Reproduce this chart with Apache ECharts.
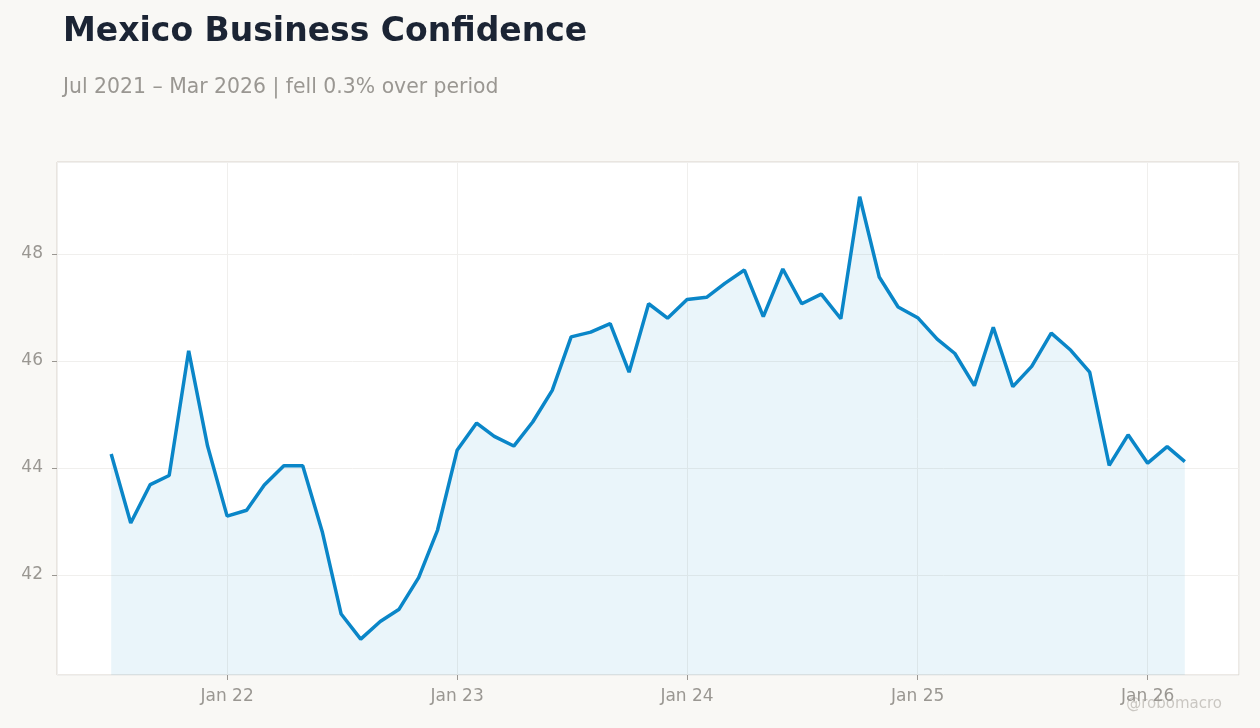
<!DOCTYPE html>
<html>
<head>
<meta charset="utf-8">
<script src="https://cdn.jsdelivr.net/npm/echarts@6/dist/echarts.min.js"></script>
<style>
  html, body { margin: 0; padding: 0; background: #f9f8f5; }
  #main { width: 1260px; height: 728px; }
</style>
</head>
<body>
<div id="main"></div>
<script>
var months = [
  '2021-07', '2021-08', '2021-09', '2021-10', '2021-11', '2021-12',
  '2022-01', '2022-02', '2022-03', '2022-04', '2022-05', '2022-06',
  '2022-07', '2022-08', '2022-09', '2022-10', '2022-11', '2022-12',
  '2023-01', '2023-02', '2023-03', '2023-04', '2023-05', '2023-06',
  '2023-07', '2023-08', '2023-09', '2023-10', '2023-11', '2023-12',
  '2024-01', '2024-02', '2024-03', '2024-04', '2024-05', '2024-06',
  '2024-07', '2024-08', '2024-09', '2024-10', '2024-11', '2024-12',
  '2025-01', '2025-02', '2025-03', '2025-04', '2025-05', '2025-06',
  '2025-07', '2025-08', '2025-09', '2025-10', '2025-11', '2025-12',
  '2026-01', '2026-02', '2026-03'
];
var confidence = [
  44.26, 42.97, 43.69, 43.86, 46.19, 44.41,
  43.10, 43.21, 43.68, 44.04, 44.04, 42.81,
  41.27, 40.80, 41.13, 41.36, 41.95, 42.84,
  44.33, 44.84, 44.59, 44.41, 44.86, 45.45,
  46.45, 46.54, 46.70, 45.79, 47.07, 46.80,
  47.15, 47.19, 47.45, 47.70, 46.83, 47.72,
  47.07, 47.25, 46.79, 49.07, 47.57, 47.01,
  46.81, 46.41, 46.14, 45.54, 46.63, 45.52,
  45.90, 46.52, 46.20, 45.79, 44.05, 44.62,
  44.09, 44.40, 44.12
];
var yTicks = [42, 44, 46, 48];

var chart = echarts.init(document.getElementById('main'));

var points = months.map(function (m, i) {
  return [m + '-01', confidence[i]];
});

var option = {
  backgroundColor: '#f9f8f5',
  textStyle: { fontFamily: 'DejaVu Sans' },
  title: [
    {
      text: 'Mexico Business Confidence',
      left: 58,
      top: 11,
      textStyle: { fontFamily: 'DejaVu Sans', fontWeight: 'bold', fontSize: 33, color: '#1b2434' }
    },
    {
      text: 'Jul 2021 \u2013 Mar 2026 | fell 0.3% over period',
      left: 58,
      top: 73,
      textStyle: { fontFamily: 'DejaVu Sans', fontWeight: 'normal', fontSize: 20.4, color: '#9a9792' }
    }
  ],
  graphic: [
    {
      type: 'text',
      right: 38,
      top: 697,
      style: { text: '@robomacro', fontFamily: 'DejaVu Sans', fontSize: 15, fill: '#cac7c2' }
    }
  ],
  grid: {
    left: 57,
    right: 21,
    top: 162,
    bottom: 53,
    show: true,
    backgroundColor: '#ffffff',
    borderColor: '#d8d3cb',
    borderWidth: 1
  },
  xAxis: {
    type: 'time',
    min: new Date('2021-04-06').getTime(),
    max: new Date('2026-05-26').getTime(),
    minInterval: 365 * 24 * 3600 * 1000,
    axisLine: { show: false },
    axisTick: { show: true, length: 5, lineStyle: { color: '#9a9792' } },
    splitLine: { show: true, lineStyle: { color: '#f0efed', width: 1 } },
    axisLabel: {
      color: '#9a9792',
      fontSize: 17,
      margin: 13,
      showMinLabel: false,
      showMaxLabel: false,
      formatter: function (v) {
        var d = new Date(v);
        if (d.getMonth() !== 0) return '';
        return 'Jan ' + String(d.getFullYear()).slice(2);
      }
    }
  },
  yAxis: {
    type: 'value',
    min: 40.13,
    max: 49.72,
    splitNumber: 5,
    axisLine: { show: false },
    axisTick: { show: true, length: 5, lineStyle: { color: '#9a9792' } },
    splitLine: { lineStyle: { color: '#f0efed', width: 1 } },
    axisLabel: {
      color: '#9a9792',
      fontSize: 17,
      margin: 14,
      showMinLabel: false,
      showMaxLabel: false,
      formatter: function (v) {
        return yTicks.indexOf(Math.round(v * 100) / 100) >= 0 ? String(v) : '';
      }
    }
  },
  series: [
    {
      type: 'line',
      data: points,
      symbol: 'none',
      lineStyle: { color: '#0a86c8', width: 3.5 },
      areaStyle: { color: 'rgba(10, 134, 200, 0.085)', opacity: 1 },
      z: 3
    }
  ]
};

chart.setOption(option);
</script>
</body>
</html>
